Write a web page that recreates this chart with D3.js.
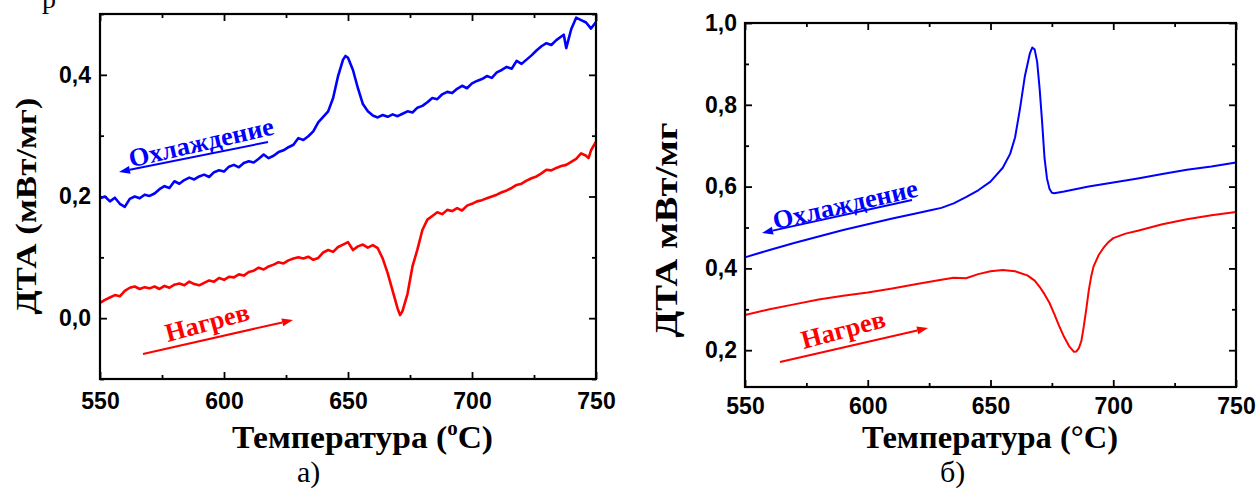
<!DOCTYPE html>
<html><head><meta charset="utf-8">
<script src="https://cdn.jsdelivr.net/npm/d3@7"></script>
<style>
body{margin:0;background:#fff;}
svg{display:block;}
.tick text{font-family:"Liberation Sans",Arial,sans-serif;font-weight:bold;font-size:23px;fill:#000;}
.tick line{stroke:#000;stroke-width:1.8px;}
.serif{font-family:"Liberation Serif","Times New Roman",serif;}
</style></head>
<body>
<svg id="chart" width="1258" height="488"></svg>
<script>
// ---------- DATA ----------
// Panel a) cooling (blue) : [temperature °C, ДТА mW/mg]
const coolingA = [[550,0.197],[552,0.200],[554,0.192],[556,0.198],[558,0.188],[560,0.183],[562,0.196],[564,0.200],[566,0.197],[568,0.203],[570,0.201],[572,0.205],[574,0.212],[576,0.217],[578,0.214],[580,0.225],[582,0.221],[584,0.227],[586,0.231],[588,0.228],[590,0.233],[592,0.236],[594,0.232],[596,0.240],[598,0.243],[600,0.241],[602,0.249],[604,0.252],[606,0.248],[608,0.255],[610,0.258],[612,0.256],[614,0.262],[616,0.269],[618,0.263],[620,0.267],[622,0.273],[624,0.276],[626,0.281],[628,0.285],[630,0.296],[632,0.293],[634,0.299],[636,0.307],[638,0.322],[640,0.331],[642,0.340],[644,0.362],[646,0.398],[648,0.425],[649,0.431],[650,0.428],[652,0.408],[654,0.378],[656,0.352],[658,0.340],[660,0.333],[662,0.330],[664,0.334],[666,0.331],[668,0.335],[670,0.332],[672,0.336],[674,0.340],[676,0.338],[678,0.346],[680,0.349],[682,0.355],[684,0.362],[686,0.360],[688,0.368],[690,0.372],[692,0.370],[694,0.377],[696,0.382],[698,0.378],[700,0.386],[702,0.390],[704,0.393],[706,0.398],[708,0.395],[710,0.404],[712,0.408],[714,0.413],[716,0.410],[718,0.423],[720,0.418],[722,0.425],[724,0.432],[726,0.440],[728,0.447],[730,0.452],[732,0.449],[734,0.457],[736,0.463],[737,0.466],[738,0.444],[740,0.475],[742,0.494],[744,0.490],[746,0.486],[748,0.476],[750,0.487]];
// Panel a) heating (red)
const heatingA = [[550,0.025],[552,0.030],[554,0.034],[556,0.038],[558,0.036],[560,0.045],[562,0.050],[564,0.052],[566,0.048],[568,0.051],[570,0.049],[572,0.052],[574,0.048],[576,0.053],[578,0.050],[580,0.055],[582,0.057],[584,0.054],[586,0.060],[588,0.056],[590,0.054],[592,0.058],[594,0.062],[596,0.060],[598,0.066],[600,0.063],[602,0.068],[604,0.067],[606,0.072],[608,0.070],[610,0.076],[612,0.078],[614,0.083],[616,0.080],[618,0.085],[620,0.088],[622,0.092],[624,0.090],[626,0.095],[628,0.098],[630,0.100],[632,0.098],[634,0.101],[636,0.096],[638,0.099],[640,0.108],[642,0.112],[644,0.109],[646,0.117],[648,0.121],[650,0.125],[652,0.112],[654,0.118],[656,0.121],[658,0.116],[660,0.120],[662,0.115],[664,0.098],[666,0.074],[668,0.045],[670,0.016],[671,0.005],[672,0.012],[674,0.040],[676,0.085],[678,0.113],[680,0.145],[682,0.162],[684,0.168],[686,0.174],[688,0.171],[690,0.178],[692,0.176],[694,0.181],[696,0.177],[698,0.185],[700,0.188],[702,0.192],[704,0.194],[706,0.197],[708,0.200],[710,0.203],[712,0.207],[714,0.210],[716,0.214],[718,0.219],[720,0.221],[722,0.226],[724,0.230],[726,0.233],[728,0.238],[730,0.244],[732,0.243],[734,0.247],[736,0.250],[738,0.252],[740,0.257],[742,0.262],[744,0.271],[746,0.267],[747,0.263],[748,0.276],[750,0.290]];
// Panel б) cooling (blue)
const coolingB = [[550,0.427],[560,0.445],[570,0.462],[580,0.478],[590,0.494],[600,0.508],[610,0.522],[620,0.535],[626,0.543],[630,0.548],[635,0.559],[640,0.574],[645,0.591],[650,0.612],[655,0.646],[658,0.680],[660,0.720],[662,0.790],[664,0.870],[666,0.925],[667,0.940],[668,0.935],[669,0.905],[670,0.840],[671,0.760],[672,0.670],[673,0.620],[674,0.595],[675,0.585],[676,0.584],[680,0.588],[690,0.600],[700,0.610],[710,0.620],[720,0.631],[730,0.641],[740,0.649],[750,0.659]];
// Panel б) heating (red)
const heatingB = [[550,0.286],[560,0.300],[570,0.312],[580,0.324],[590,0.333],[600,0.341],[610,0.351],[620,0.362],[630,0.372],[635,0.377],[640,0.376],[645,0.386],[650,0.393],[655,0.396],[660,0.393],[665,0.383],[668,0.370],[670,0.355],[672,0.337],[674,0.316],[676,0.288],[678,0.259],[680,0.232],[682,0.210],[684,0.196],[685,0.197],[686,0.205],[687,0.222],[688,0.258],[689,0.300],[690,0.345],[691,0.380],[692,0.405],[694,0.432],[696,0.450],[698,0.464],[700,0.474],[705,0.485],[710,0.492],[720,0.508],[730,0.520],[740,0.530],[750,0.538]];

const xMajorTicks = [550,600,650,700,750];
const xMinorTicks = [575,625,675,725];
const yMajorA = [0.0,0.2,0.4];
const yMinorA = [-0.1,0.1,0.3,0.5];
const yMajorB = [0.2,0.4,0.6,0.8,1.0];
const yMinorB = [0.3,0.5,0.7,0.9];

const xTitleText = "Температура (";
const yTitleA = "ДТА (мВт/мг)";
const yTitleB = "ДТА мВт/мг";
const labelCool = "Охлаждение";
const labelHeat = "Нагрев";

// ---------- DRAW ----------
const svg = d3.select("#chart");
const fmt = d => d3.format(".1f")(d).replace(".", ",");

function panel(cfg){
  const x = d3.scaleLinear().domain([550,750]).range([cfg.x0,cfg.x1]);
  const y = d3.scaleLinear().domain(cfg.yDomain).range([cfg.y1,cfg.y0]);
  const g = svg.append("g");
  const major = 7, minor = 4;
  // bottom
  g.append("g").attr("transform",`translate(0,${cfg.y1})`)
    .call(d3.axisBottom(x).tickValues(xMajorTicks).tickSizeInner(-major).tickSizeOuter(0).tickPadding(cfg.xPad).tickFormat(d3.format("d")));
  g.append("g").attr("transform",`translate(0,${cfg.y1})`)
    .call(d3.axisBottom(x).tickValues(xMinorTicks).tickSizeInner(-minor).tickSizeOuter(0).tickFormat(""));
  // top
  g.append("g").attr("transform",`translate(0,${cfg.y0})`)
    .call(d3.axisTop(x).tickValues(xMajorTicks).tickSizeInner(-major).tickSizeOuter(0).tickFormat(""));
  g.append("g").attr("transform",`translate(0,${cfg.y0})`)
    .call(d3.axisTop(x).tickValues(xMinorTicks).tickSizeInner(-minor).tickSizeOuter(0).tickFormat(""));
  // left
  g.append("g").attr("transform",`translate(${cfg.x0},0)`)
    .call(d3.axisLeft(y).tickValues(cfg.yMajor).tickSizeInner(-major).tickSizeOuter(0).tickPadding(cfg.yPad).tickFormat(fmt));
  g.append("g").attr("transform",`translate(${cfg.x0},0)`)
    .call(d3.axisLeft(y).tickValues(cfg.yMinor).tickSizeInner(-minor).tickSizeOuter(0).tickFormat(""));
  // right
  g.append("g").attr("transform",`translate(${cfg.x1},0)`)
    .call(d3.axisRight(y).tickValues(cfg.yMajor).tickSizeInner(-major).tickSizeOuter(0).tickFormat(""));
  g.append("g").attr("transform",`translate(${cfg.x1},0)`)
    .call(d3.axisRight(y).tickValues(cfg.yMinor).tickSizeInner(-minor).tickSizeOuter(0).tickFormat(""));
  g.selectAll(".domain").remove();

  const line = d3.line().x(d=>x(d[0])).y(d=>y(d[1]));
  g.append("path").datum(cfg.cool).attr("d",line).attr("fill","none")
    .attr("stroke","#0000ff").attr("stroke-width",cfg.lw).attr("stroke-linejoin","round");
  g.append("path").datum(cfg.heat).attr("d",line).attr("fill","none")
    .attr("stroke","#ff0000").attr("stroke-width",cfg.lw).attr("stroke-linejoin","round");

  g.append("rect").attr("x",cfg.x0).attr("y",cfg.y0).attr("width",cfg.x1-cfg.x0).attr("height",cfg.y1-cfg.y0)
    .attr("fill","none").attr("stroke","#000").attr("stroke-width",2.2);

  // y title
  g.append("text").attr("class","serif")
    .attr("transform",`translate(${cfg.yTitleX},${cfg.yTitleY}) rotate(-90)`)
    .attr("text-anchor","middle").attr("font-weight","bold").attr("font-size",cfg.yTitleSize)
    .attr("textLength",cfg.yTitleLen).attr("lengthAdjust","spacingAndGlyphs")
    .text(cfg.yTitle);

  // x title
  const xt = g.append("text").attr("class","serif").attr("x",cfg.xTitleX).attr("y",cfg.xTitleY)
    .attr("font-weight","bold").attr("font-size",32);
  xt.append("tspan").text(xTitleText);
  if(cfg.superO){
    xt.append("tspan").attr("font-size",20).attr("dy",-13).text("o");
    xt.append("tspan").attr("dy",13).text("C)");
  } else {
    xt.append("tspan").text("°C)");
  }
  xt.attr("textLength",cfg.xTitleLen).attr("lengthAdjust","spacingAndGlyphs");

  // panel letter
  g.append("text").attr("class","serif").attr("x",cfg.letterX).attr("y",482)
    .attr("font-size",30).text(cfg.letter);

  // annotations
  const ann = (txt,cx,cy,rot,color,len) => g.append("text").attr("class","serif")
    .attr("transform",`translate(${cx},${cy}) rotate(${rot})`).attr("text-anchor","middle")
    .attr("dy","0.35em").attr("font-weight","bold").attr("font-size",26).attr("fill",color)
    .attr("textLength",len).attr("lengthAdjust","spacingAndGlyphs").text(txt);
  ann(labelCool,cfg.coolLbl[0],cfg.coolLbl[1],cfg.coolLbl[2],"#0000ff",cfg.coolLbl[3]);
  ann(labelHeat,cfg.heatLbl[0],cfg.heatLbl[1],cfg.heatLbl[2],"#ff0000",cfg.heatLbl[3]);

  const arrow = (p0,p1,color) => {
    const ang = Math.atan2(p1[1]-p0[1],p1[0]-p0[0]);
    const L = 11, W = 4;
    const bx = p1[0]-L*Math.cos(ang), by = p1[1]-L*Math.sin(ang);
    g.append("line").attr("x1",p0[0]).attr("y1",p0[1]).attr("x2",bx).attr("y2",by)
      .attr("stroke",color).attr("stroke-width",2);
    g.append("path").attr("fill",color).attr("d",
      `M${p1[0]},${p1[1]}L${bx - W*Math.sin(ang)},${by + W*Math.cos(ang)}L${bx + W*Math.sin(ang)},${by - W*Math.cos(ang)}Z`);
  };
  arrow(cfg.coolArrow[0],cfg.coolArrow[1],"#0000ff");
  arrow(cfg.heatArrow[0],cfg.heatArrow[1],"#ff0000");
}

panel({x0:100,x1:596,y0:14,y1:379,yDomain:[-0.1,0.5],yMajor:yMajorA,yMinor:yMinorA,yPad:9,xPad:14,
  cool:coolingA,heat:heatingA,lw:2.6,
  yTitle:yTitleA,yTitleX:36,yTitleY:206,yTitleSize:30,yTitleLen:217,
  xTitleX:232,xTitleY:448,xTitleLen:261,superO:true,
  letter:"а)",letterX:297,
  coolLbl:[201,142,-13,148],heatLbl:[207,322,-15,86],
  coolArrow:[[268,142],[119,172]],heatArrow:[[143,354],[293,320]]});

panel({x0:745,x1:1236,y0:23,y1:387,yDomain:[0.11,1.0],yMajor:yMajorB,yMinor:yMinorB,yPad:8,xPad:11,
  cool:coolingB,heat:heatingB,lw:2,
  yTitle:yTitleB,yTitleX:677,yTitleY:230,yTitleSize:32,yTitleLen:215,
  xTitleX:862,xTitleY:448,xTitleLen:256,superO:false,
  letter:"б)",letterX:940,
  coolLbl:[845,204,-13,148],heatLbl:[843,329,-15,86],
  coolArrow:[[912,200],[762,233]],heatArrow:[[780,362],[928,328]]});

// cut-off letter from the text line above
svg.append("text").attr("class","serif").attr("x",42).attr("y",8).attr("font-size",28).text("р");
</script>
</body></html>
